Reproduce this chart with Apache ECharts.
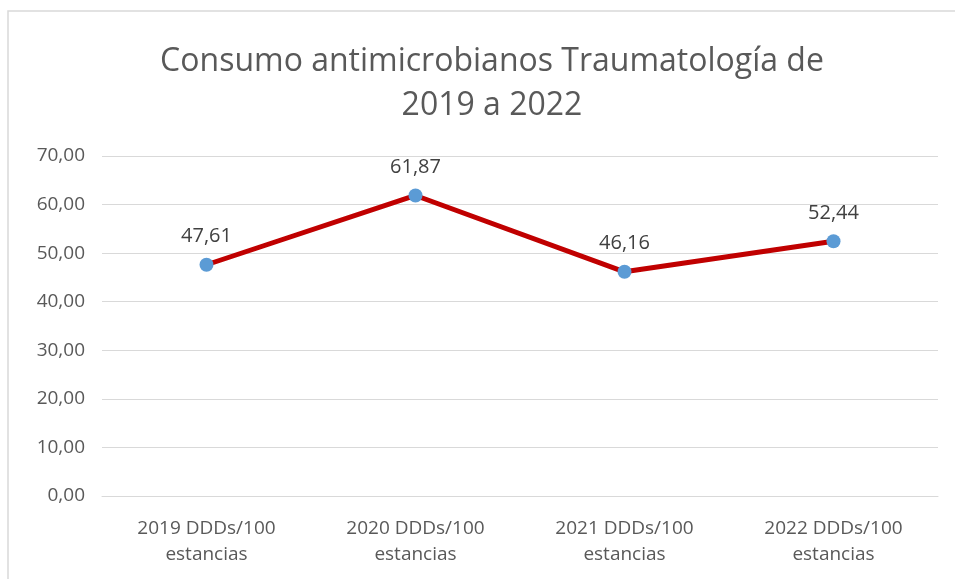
<!DOCTYPE html>
<html>
<head>
<meta charset="utf-8">
<script src="https://cdn.jsdelivr.net/npm/echarts@6/dist/echarts.min.js"></script>
<style>
  html, body { margin: 0; padding: 0; background: #fff; }
  #main { width: 955px; height: 579px; }
</style>
</head>
<body>
<div id="main"></div>
<script>
// datos del gráfico
const categories = ['2019 DDDs/100\nestancias', '2020 DDDs/100\nestancias', '2021 DDDs/100\nestancias', '2022 DDDs/100\nestancias'];
const consumo = [47.61, 61.87, 46.16, 52.44];
const yMin = 0, yMax = 70, yStep = 10;

const fmt = v => v.toFixed(2).replace('.', ',');
const font = '"Open Sans", "Noto Sans", sans-serif';

let chart = echarts.init(document.getElementById('main'));

chart.setOption({
    backgroundColor: '#fff',
    textStyle: { fontFamily: font },
    // marco exterior del gráfico
    graphic: [{
        type: 'rect',
        shape: { x: 8, y: 11, width: 960, height: 600 },
        style: { fill: 'none', stroke: '#d9d9d9', lineWidth: 1.5 },
        silent: true
    }],
    title: {
        text: 'Consumo antimicrobianos Traumatología de\n2019 a 2022',
        left: 487,
        top: 35,
        textAlign: 'center',
        textStyle: {
            fontFamily: font,
            fontSize: 32,
            fontWeight: 'normal',
            color: '#595959',
            lineHeight: 44
        }
    },
    grid: {
        left: 102,
        right: 17,
        top: 156,
        bottom: 83,
        containLabel: false
    },
    xAxis: {
        type: 'category',
        data: categories,
        boundaryGap: true,
        axisLine: { lineStyle: { color: '#d9d9d9', width: 1 } },
        axisTick: { show: false },
        axisLabel: {
            color: '#595959',
            fontSize: 19,
            lineHeight: 26,
            margin: 20,
            interval: 0
        }
    },
    yAxis: {
        type: 'value',
        min: yMin,
        max: yMax,
        interval: yStep,
        axisLine: { show: false },
        axisTick: { show: false },
        splitLine: { lineStyle: { color: '#d9d9d9', width: 1 } },
        axisLabel: {
            color: '#595959',
            fontSize: 19,
            margin: 17,
            formatter: v => fmt(v)
        }
    },
    series: [{
        type: 'line',
        data: consumo,
        symbol: 'circle',
        symbolSize: 14,
        lineStyle: { color: '#c00000', width: 5 },
        itemStyle: { color: '#5b9bd5', borderWidth: 0 },
        label: {
            show: true,
            position: 'top',
            distance: 11,
            color: '#404040',
            fontSize: 20,
            formatter: p => fmt(p.value)
        },
        animation: false
    }]
});

window.addEventListener('resize', () => chart.resize());
</script>
</body>
</html>
